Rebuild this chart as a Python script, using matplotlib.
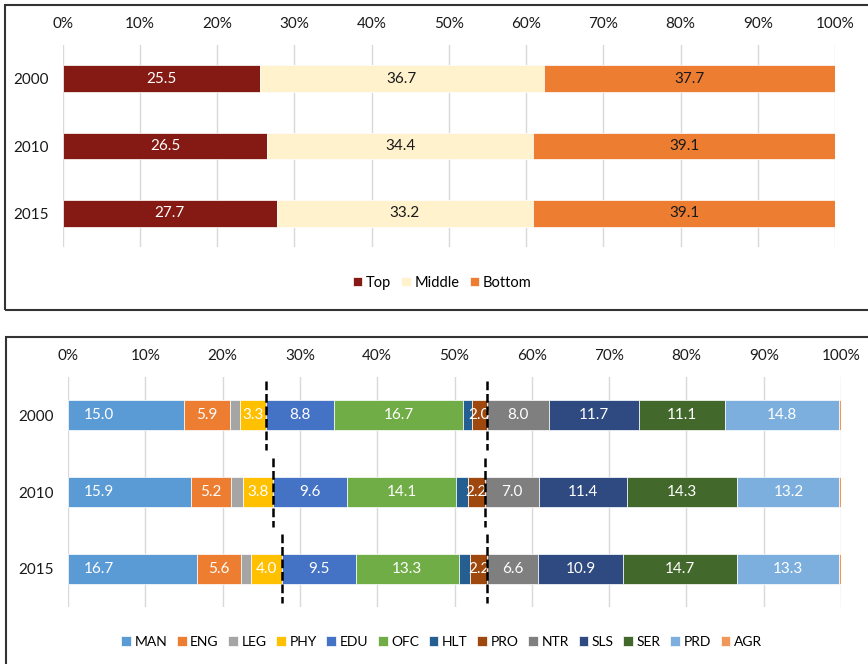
import numpy as np
import matplotlib.pyplot as plt
from matplotlib.patches import Rectangle

plt.rcParams['font.family'] = ['Lato', 'DejaVu Sans']
plt.rcParams['font.size'] = 11

years = ['2000', '2010', '2015']

# --- top chart: Top / Middle / Bottom shares ---
tiers = ['Top', 'Middle', 'Bottom']
top_share = [25.5, 26.5, 27.7]
middle_share = [36.7, 34.4, 33.2]
bottom_share = [37.7, 39.1, 39.1]
tier_colors = ['#841A13', '#FFF2CC', '#ED7D31']
tier_text = ['white', '#1a1a1a', '#1a1a1a']

# --- bottom chart: occupation groups ---
occupations = ['MAN', 'ENG', 'LEG', 'PHY', 'EDU', 'OFC', 'HLT',
               'PRO', 'NTR', 'SLS', 'SER', 'PRD', 'AGR']
occ_2000 = [15.0, 5.9, 1.4, 3.3, 8.8, 16.7, 1.1, 2.0, 8.0, 11.7, 11.1, 14.8, 0.2]
occ_2010 = [15.9, 5.2, 1.6, 3.8, 9.6, 14.1, 1.5, 2.2, 7.0, 11.4, 14.3, 13.2, 0.2]
occ_2015 = [16.7, 5.6, 1.4, 4.0, 9.5, 13.3, 1.5, 2.2, 6.6, 10.9, 14.7, 13.3, 0.2]
occ_colors = ['#5B9BD5', '#ED7D31', '#A5A5A5', '#FFC000', '#4472C4', '#70AD47',
              '#255E91', '#9E480E', '#7F7F7F', '#2F4A80', '#43682B', '#7CAFDD',
              '#F1975A']
no_label = ['LEG', 'HLT', 'AGR']
base_label = ['MAN']   # labels sitting at the start of the segment
# dashed separators drawn after these groups
split_after = ['PHY', 'PRO']

W, H = 868, 664
fig = plt.figure(figsize=(W / 100, H / 100), dpi=100)

def px_axes(x0, x1, y0, y1):
    return fig.add_axes([x0 / W, 1 - y1 / H, (x1 - x0) / W, (y1 - y0) / H])

def style_axes(ax):
    ax.set_xlim(0, 100)
    ax.set_ylim(2.5, -0.5)
    ax.set_xticks(np.arange(0, 101, 10))
    ax.set_xticklabels([f'{t}%' for t in range(0, 101, 10)])
    ax.xaxis.tick_top()
    ax.set_yticks(range(len(years)))
    ax.set_yticklabels(years)
    ax.tick_params(length=0, colors='#1a1a1a', labelsize=11)
    ax.tick_params(axis='x', pad=10)
    ax.tick_params(axis='y', pad=10)
    ax.grid(axis='x', color='#D9D9D9', lw=1)
    ax.set_axisbelow(True)
    for s in ax.spines.values():
        s.set_visible(False)

# ---- top panel ----
ax1 = px_axes(62.6, 835, 45, 247)
style_axes(ax1)
tier_data = np.array([top_share, middle_share, bottom_share])
tier_pct = tier_data / tier_data.sum(axis=0) * 100
left = np.zeros(len(years))
for k, name in enumerate(tiers):
    ax1.barh(range(len(years)), tier_pct[k], left=left, height=0.4,
             color=tier_colors[k], edgecolor='white', lw=0.5, label=name)
    for i in range(len(years)):
        ax1.text(left[i] + tier_pct[k, i] / 2, i, f'{tier_data[k, i]:.1f}',
                 ha='center', va='center', color=tier_text[k], fontsize=11)
    left += tier_pct[k]
ax1.legend(loc='center', bbox_to_anchor=(442 / W, 1 - 282.7 / H),
           bbox_transform=fig.transFigure, ncol=3, frameon=False,
           handlelength=0.65, handleheight=0.65, handletextpad=0.25,
           columnspacing=0.7, fontsize=10.5)

# ---- bottom panel ----
ax2 = px_axes(68, 841, 377, 607)
style_axes(ax2)
occ_data = np.array([occ_2000, occ_2010, occ_2015]).T
occ_pct = occ_data / occ_data.sum(axis=0) * 100
left = np.zeros(len(years))
splits = []
for k, name in enumerate(occupations):
    ax2.barh(range(len(years)), occ_pct[k], left=left, height=0.395,
             color=occ_colors[k], edgecolor='white', lw=0.5, label=name)
    if name not in no_label:
        for i in range(len(years)):
            if name in base_label:
                x, ha = left[i] + 2.0, 'left'
            else:
                x, ha = left[i] + occ_pct[k, i] / 2, 'center'
            ax2.text(x, i, f'{occ_data[k, i]:.1f}', ha=ha, va='center',
                     color='white', fontsize=11)
    left += occ_pct[k]
    if name in split_after:
        splits.append(left.copy())
for xs in splits:
    for i, x in enumerate(xs):
        ax2.vlines(x, i - 0.45, i + 0.45, colors='black', lw=1.8,
                   linestyles=(0, (3.5, 1.5)), zorder=5)
ax2.legend(loc='center', bbox_to_anchor=(441.6 / W, 1 - 642 / H),
           bbox_transform=fig.transFigure, ncol=13, frameon=False,
           handlelength=0.7, handleheight=0.7, handletextpad=0.25,
           columnspacing=0.7, fontsize=10)

# panel frames
fig.add_artist(Rectangle((4.5 / W, 1 - 309.5 / H), 1.0, 304.5 / H,
                         transform=fig.transFigure, fill=False,
                         edgecolor='#333333', lw=1.5))
fig.add_artist(Rectangle((5.5 / W, -0.05), 1.0, 1 - 336.7 / H + 0.05,
                         transform=fig.transFigure, fill=False,
                         edgecolor='#333333', lw=1.5))

fig.savefig('out.png', dpi=100)
